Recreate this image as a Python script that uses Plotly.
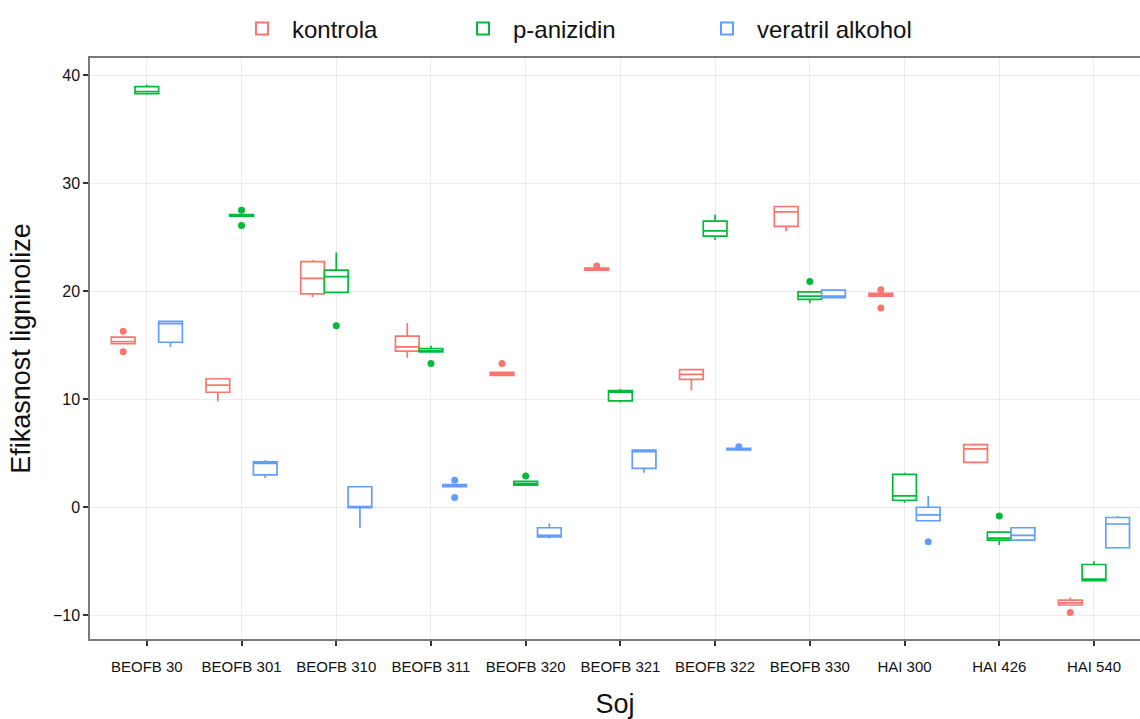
import plotly.graph_objects as go

categories = ["BEOFB 30", "BEOFB 301", "BEOFB 310", "BEOFB 311", "BEOFB 320",
              "BEOFB 321", "BEOFB 322", "BEOFB 330", "HAI 300", "HAI 426", "HAI 540"]

# kontrola
k_lf  = [15.15, 9.8, 19.45, 13.85, 12.2, 21.95, 10.8, 25.55, 19.5, 4.15, -9.05]
k_q1  = [15.15, 10.65, 19.75, 14.45, 12.2, 21.95, 11.85, 26.0, 19.55, 4.15, -9.05]
k_med = [15.35, 11.3, 21.2, 14.85, 12.35, 22.05, 12.3, 27.35, 19.65, 5.4, -8.85]
k_q3  = [15.75, 11.9, 22.75, 15.85, 12.5, 22.15, 12.75, 27.85, 19.8, 5.8, -8.6]
k_uf  = [15.8, 11.9, 22.9, 17.05, 12.5, 22.2, 12.75, 27.85, 19.85, 5.9, -8.35]
k_out = [[16.3, 14.4], [None], [None], [None], [13.3], [22.35], [None], [None], [20.15, 18.45], [None], [-9.75]]

# p-anizidin
p_lf  = [38.2, 26.9, 19.9, 14.35, 2.0, 9.7, 24.75, 18.9, 0.4, -3.5, -6.8]
p_q1  = [38.3, 26.95, 19.9, 14.38, 2.05, 9.85, 25.1, 19.25, 0.65, -3.05, -6.8]
p_med = [38.5, 27.0, 21.35, 14.5, 2.2, 10.65, 25.6, 19.55, 1.05, -2.85, -6.65]
p_q3  = [38.95, 27.1, 21.95, 14.7, 2.4, 10.8, 26.5, 19.95, 3.05, -2.3, -5.3]
p_uf  = [39.15, 27.15, 23.6, 14.95, 2.45, 10.95, 27.1, 20.0, 3.2, -2.3, -5.0]
p_out = [[None], [27.5, 26.1], [16.8], [13.3], [2.9], [None], [None], [20.9], [None], [-0.8], [None]]

# veratril alkohol
v_lf  = [14.85, 2.7, -1.9, 1.88, -2.9, 3.2, 5.25, 19.4, -1.3, -3.05, -3.85]
v_q1  = [15.28, 3.0, -0.03, 1.9, -2.75, 3.6, 5.3, 19.4, -1.25, -3.05, -3.75]
v_med = [17.0, 4.05, 0.0, 2.0, -2.6, 5.15, 5.38, 19.55, -0.7, -2.6, -1.55]
v_q3  = [17.22, 4.2, 1.9, 2.1, -1.9, 5.3, 5.45, 20.1, 0.0, -1.9, -0.95]
v_uf  = [17.25, 4.35, 1.9, 2.15, -1.5, 5.3, 5.5, 20.15, 1.05, -1.9, -0.8]
v_out = [[None], [None], [None], [2.5, 0.9], [None], [None], [5.6], [None], [-3.2], [None], [None]]

FONT = "Liberation Sans, Arial, sans-serif"

series = [
    ("kontrola", "#F8766D", k_lf, k_q1, k_med, k_q3, k_uf, k_out, "legend", 0.1352),
    ("p-anizidin", "#00BA38", p_lf, p_q1, p_med, p_q3, p_uf, p_out, "legend2", 0.3457),
    ("veratril alkohol", "#619CFF", v_lf, v_q1, v_med, v_q3, v_uf, v_out, "legend3", 0.5781),
]

fig = go.Figure()
layout_legends = {}
for name, color, lf, q1, med, q3, uf, out, leg, lx in series:
    fig.add_trace(go.Box(
        name=name,
        x=categories,
        y=out,
        q1=q1, median=med, q3=q3, lowerfence=lf, upperfence=uf,
        boxpoints="all", jitter=0, pointpos=0,
        marker=dict(color=color, size=7),
        line=dict(color=color, width=1.7),
        fillcolor="white",
        whiskerwidth=0,
        legend=leg,
    ))
    layout_legends[leg] = dict(
        x=lx, y=1.05, xanchor="left", yanchor="middle",
        orientation="h", font=dict(family=FONT, size=24, color="#111"),
        bgcolor="rgba(0,0,0,0)", itemsizing="constant", itemwidth=50,
    )

fig.update_layout(
    width=1140, height=719,
    margin=dict(l=90, r=0, t=58, b=80),
    paper_bgcolor="white", plot_bgcolor="white",
    boxmode="group", boxgap=0.25, boxgroupgap=0.0,
    font=dict(family=FONT, color="#111"),
    showlegend=True,
    **layout_legends,
)

fig.update_xaxes(
    type="category", categoryorder="array", categoryarray=categories,
    range=[-0.6, 10.486],
    showgrid=True, gridcolor="#ebebeb", gridwidth=1,
    showline=True, linecolor="#7a7a7a", linewidth=1.5, mirror=True,
    ticks="outside", ticklen=5, tickwidth=1.5, tickcolor="#333",
    ticklabelstandoff=8,
    tickfont=dict(size=15, color="#111"),
    title=dict(text="Soj", font=dict(size=27, color="#111"), standoff=20),
    zeroline=False,
)
fig.update_yaxes(
    range=[-12.2, 41.6],
    tickvals=[-10, 0, 10, 20, 30, 40],
    showgrid=True, gridcolor="#ebebeb", gridwidth=1,
    showline=True, linecolor="#7a7a7a", linewidth=1.5, mirror=False,
    ticks="outside", ticklen=5, tickwidth=1.5, tickcolor="#333",
    tickfont=dict(size=16, color="#111"),
    title=dict(text="Efikasnost ligninolize", font=dict(size=27, color="#111"), standoff=14),
    zeroline=False,
)

fig.write_html("out.html")
